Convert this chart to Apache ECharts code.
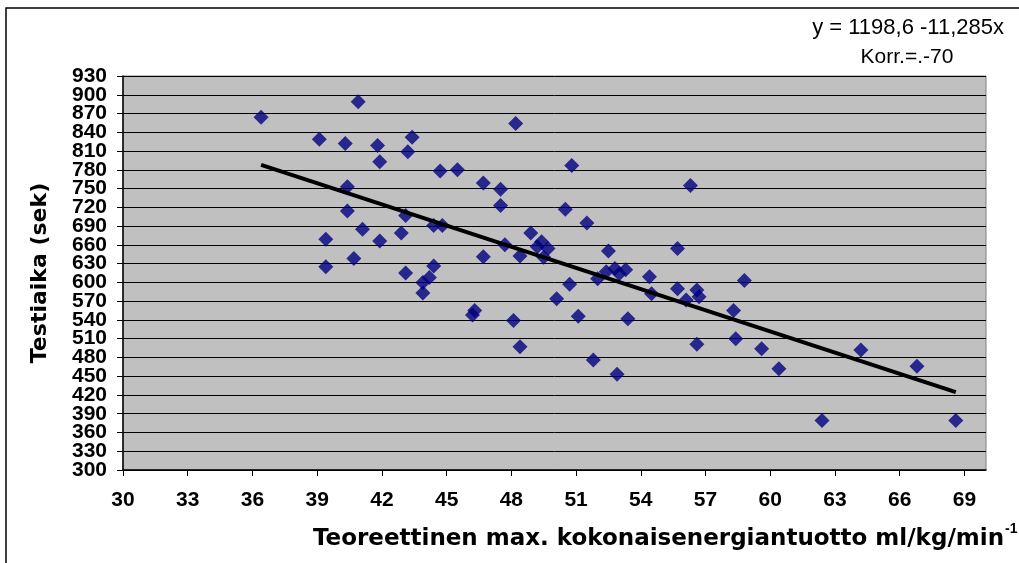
<!DOCTYPE html>
<html>
<head>
<meta charset="utf-8">
<script src="https://cdn.jsdelivr.net/npm/echarts@6/dist/echarts.min.js"></script>
<style>
  html, body { margin: 0; padding: 0; background: #fff; }
  #chart { width: 1019px; height: 563px; }
</style>
</head>
<body>
<div id="chart"></div>
<script>
// VO2 (x) and test time in seconds (y)
const xValues = [36.4, 40.9, 39.1, 40.3, 41.8, 43.4, 43.2, 41.9, 44.7, 45.5,
  40.4, 40.4, 41.1, 41.9, 39.4, 43.1, 42.9, 44.4, 44.8, 39.4,
  40.7, 43.1, 44.4, 44.2, 43.9, 43.9, 48.2, 46.7, 47.5, 47.5,
  50.8, 50.5, 51.5, 48.9, 47.7, 46.7, 48.4, 49.4, 49.2, 49.7,
  49.5, 46.3, 46.2, 48.1, 48.4, 50.1, 50.7, 51.1, 51.8, 52.5,
  52.4, 52.0, 56.3, 55.7, 52.8, 53.3, 53.0, 54.4, 54.5, 55.7,
  56.6, 56.7, 56.1, 58.8, 58.3, 53.4, 56.6, 58.4, 59.6, 60.4,
  52.9, 64.2, 66.8, 62.4, 68.6];
const yValues = [864, 889, 829, 822, 819, 832, 809, 793, 778, 780,
  753, 714, 685, 666, 669, 707, 679, 691, 691, 625,
  638, 615, 626, 608, 600, 583, 854, 759, 749, 723,
  787, 717, 695, 679, 660, 641, 642, 665, 657, 654,
  640, 555, 548, 539, 497, 574, 597, 546, 476, 650,
  617, 606, 755, 654, 622, 620, 614, 609, 582, 590,
  588, 577, 572, 603, 555, 542, 501, 510, 494, 462,
  453, 492, 466, 379, 379];

// regression shown on the chart
const trendIntercept = 1198.6;
const trendSlope = -11.285;

const xTicks = [30, 33, 36, 39, 42, 45, 48, 51, 54, 57, 60, 63, 66, 69];
const yMin = 300;
const yMax = 930;
const yStep = 30;

const points = xValues.map((x, i) => [x, yValues[i]]);
const xMin = Math.min(...xValues);
const xMax = Math.max(...xValues);
const trend = [
  [xMin, trendIntercept + trendSlope * xMin],
  [xMax, trendIntercept + trendSlope * xMax]
];

const font = "'Liberation Sans', Arial, sans-serif";
const wideFont = "'DejaVu Sans', 'Liberation Sans', sans-serif";
const chart = echarts.init(document.getElementById('chart'));

// y labels are packed tighter than their font height, so they are split over
// two overlapping axes (even / odd steps) to keep echarts from dropping any
function yLabelStyle(odd) {
  return {
    margin: 16,
    color: '#000',
    fontFamily: font,
    fontWeight: 'bold',
    fontSize: 21,
    showMinLabel: true,
    showMaxLabel: true,
    hideOverlap: false,
    formatter: v => {
      const k = Math.round((v - yMin) / yStep);
      return (k % 2 === 1) === odd ? String(v) : '';
    }
  };
}

const option = {
  backgroundColor: '#ffffff',
  animation: false,
  grid: {
    left: 123,
    top: 76,
    right: 33,
    bottom: 93,
    show: true,
    backgroundColor: '#C0C0C0',
    borderColor: '#808080',
    borderWidth: 1
  },
  xAxis: {
    type: 'value',
    min: 30,
    max: 70,
    interval: 3,
    axisLine: { show: true, onZero: false, lineStyle: { color: '#000', width: 1.5 } },
    axisTick: { show: true, customValues: xTicks, length: 6, lineStyle: { color: '#000' } },
    axisLabel: {
      customValues: xTicks,
      margin: 20,
      color: '#000',
      fontFamily: font,
      fontWeight: 'bold',
      fontSize: 21
    },
    splitLine: { show: false }
  },
  yAxis: [
    {
      type: 'value',
      position: 'left',
      min: yMin,
      max: yMax,
      interval: yStep,
      axisLine: { show: true, onZero: false, lineStyle: { color: '#000', width: 1.5 } },
      axisTick: { show: true, length: 6, lineStyle: { color: '#000' } },
      axisLabel: yLabelStyle(false),
      splitLine: { show: true, lineStyle: { color: '#000', width: 1 } }
    },
    {
      type: 'value',
      position: 'left',
      offset: 0,
      min: yMin,
      max: yMax,
      interval: yStep,
      axisLine: { show: false },
      axisTick: { show: false },
      axisLabel: yLabelStyle(true),
      splitLine: { show: false }
    }
  ],
  series: [
    {
      type: 'scatter',
      data: points,
      symbol: 'diamond',
      symbolSize: 15,
      itemStyle: { color: '#000080' },
      z: 3
    },
    {
      type: 'line',
      data: trend,
      symbol: 'none',
      lineStyle: { color: '#000', width: 4 },
      z: 4
    }
  ],
  graphic: [
    {
      type: 'rect',
      shape: { x: 6, y: 8, width: 1100, height: 700 },
      style: { fill: 'none', stroke: '#000', lineWidth: 1.5 },
      silent: true
    },
    {
      type: 'text',
      x: 1004,
      y: 28,
      style: { text: 'y = 1198,6 -11,285x', font: '22px ' + font, fill: '#000', align: 'right', verticalAlign: 'middle' }
    },
    {
      type: 'text',
      x: 907,
      y: 57,
      style: { text: 'Korr.=.-70', font: '21px ' + font, fill: '#000', align: 'center', verticalAlign: 'middle' }
    },
    {
      type: 'text',
      x: 1004,
      y: 539,
      style: {
        text: 'Teoreettinen max. kokonaisenergiantuotto ml/kg/min',
        font: 'bold 23px ' + wideFont,
        fill: '#000',
        align: 'right',
        verticalAlign: 'middle'
      }
    },
    {
      type: 'text',
      x: 1005,
      y: 529,
      style: { text: '-1', font: 'bold 14px ' + font, fill: '#000', align: 'left', verticalAlign: 'middle' }
    },
    {
      type: 'text',
      x: 40,
      y: 273,
      rotation: Math.PI / 2,
      style: {
        text: 'Testiaika (sek)',
        font: 'bold 22px ' + wideFont,
        fill: '#000',
        align: 'center',
        verticalAlign: 'middle'
      }
    }
  ]
};

chart.setOption(option);
</script>
</body>
</html>
